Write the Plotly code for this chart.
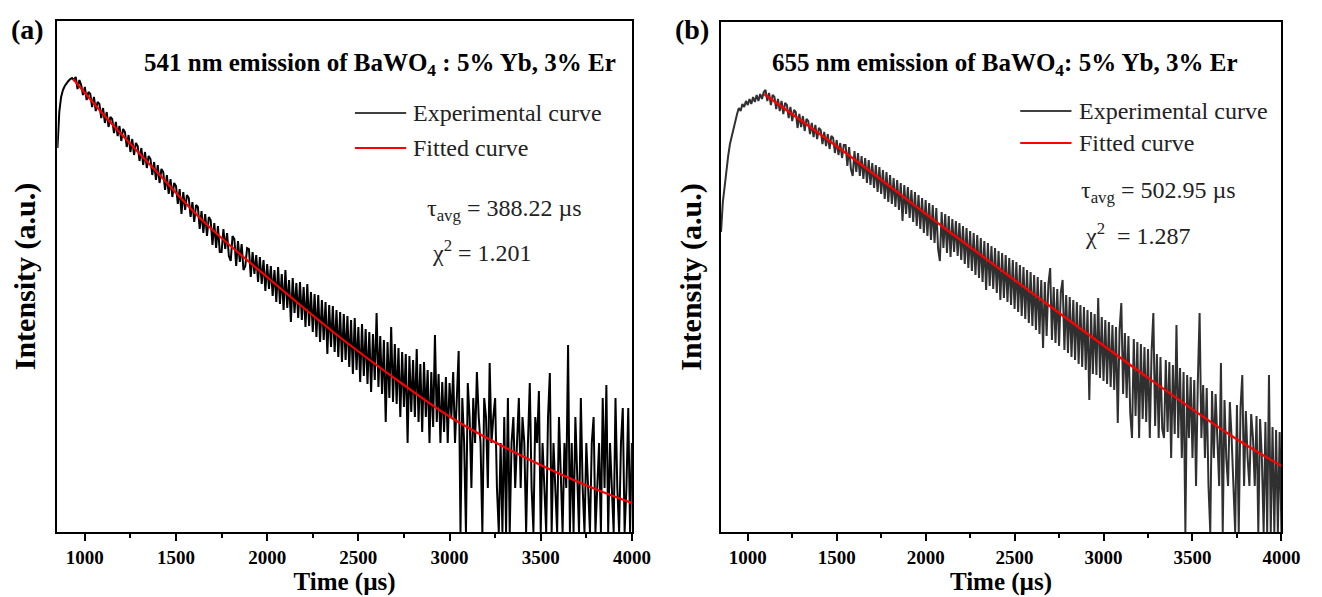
import numpy as np
import plotly.graph_objects as go

W, H = 1322, 597
T_START, T_STEP = 850, 10  # time channel grid (µs)

# Experimental decay curves (intensity, a.u.), one value per 10 µs channel from 850 µs
exp_a = [
    384, 420, 435, 442, 446, 449, 451, 453, 454, 452,
    455, 443, 452, 447, 437, 445, 432, 440, 438, 425,
    435, 421, 430, 428, 414, 424, 409, 420, 405, 415,
    413, 399, 410, 396, 406, 391, 403, 400, 385, 397,
    380, 393, 377, 389, 386, 371, 384, 367, 380, 364,
    376, 373, 357, 370, 352, 367, 349, 363, 360, 342,
    357, 338, 353, 335, 349, 346, 328, 343, 318, 340,
    322, 337, 334, 315, 330, 310, 327, 325, 303, 321,
    299, 318, 296, 315, 312, 287, 309, 284, 306, 280,
    280, 303, 283, 299, 276, 271, 296, 293, 266, 291,
    270, 288, 262, 266, 284, 283, 255, 280, 258, 277,
    250, 275, 248, 272, 241, 268, 243, 266, 236, 262,
    230, 265, 228, 258, 222, 262, 224, 252, 210, 254,
    219, 249, 214, 250, 212, 245, 205, 248, 206, 240,
    200, 238, 195, 237, 190, 232, 192, 230, 178, 227,
    185, 226, 180, 222, 175, 220, 170, 218, 172, 216,
    165, 212, 158, 214, 162, 205, 150, 208, 156, 203,
    148, 200, 140, 198, 152, 219, 145, 196, 138, 192,
    110, 190, 134, 205, 130, 188, 128, 184, 115, 180,
    125, 178, 89, 176, 120, 172, 115, 183, 110, 168,
    100, 170, 115, 162, 89, 160, 105, 197, 110, 158,
    89, 150, 100, 155, 89, 149, 115, 160, 89, 134,
    181, 0, 134, 89, 0, 149, 115, 44, 134, 89,
    160, 115, 89, 0, 134, 115, 44, 169, 89, 115,
    134, 44, 0, 89, 0, 115, 0, 134, 0, 89,
    115, 44, 89, 134, 44, 115, 89, 0, 89, 149,
    44, 0, 115, 89, 141, 0, 89, 44, 0, 115,
    159, 0, 89, 44, 0, 115, 44, 0, 89, 44,
    187, 0, 89, 0, 115, 44, 0, 134, 44, 0,
    89, 44, 0, 89, 115, 0, 44, 89, 0, 134,
    44, 147, 0, 89, 44, 0, 134, 44, 0, 89,
    124, 0, 44, 124, 0, 89,
]

exp_b = [
    300, 330, 345, 362, 376, 388, 396, 404, 412, 418,
    424, 421, 428, 425, 431, 427, 433, 428, 435, 430,
    437, 431, 438, 433, 440, 442, 431, 439, 427, 437,
    435, 423, 433, 421, 431, 418, 429, 427, 414, 425,
    411, 422, 420, 404, 418, 405, 416, 401, 413, 411,
    398, 409, 395, 407, 393, 404, 402, 388, 400, 386,
    398, 383, 396, 394, 379, 392, 377, 389, 374, 387,
    387, 366, 385, 363, 356, 381, 360, 379, 356, 376,
    353, 374, 349, 372, 347, 369, 344, 367, 340, 365,
    338, 362, 333, 360, 330, 357, 328, 354, 325, 352,
    322, 349, 311, 347, 318, 345, 314, 342, 310, 340,
    306, 337, 303, 334, 299, 332, 296, 329, 292, 327,
    289, 324, 283, 271, 320, 284, 318, 279, 316, 275,
    313, 280, 311, 276, 309, 272, 306, 268, 304, 264,
    301, 261, 299, 257, 297, 254, 294, 250, 291, 242,
    289, 246, 286, 243, 284, 239, 281, 232, 279, 234,
    277, 230, 274, 227, 272, 223, 270, 220, 267, 216,
    265, 213, 262, 209, 260, 206, 257, 202, 255, 198,
    252, 184, 250, 196, 248, 264, 192, 245, 189, 243,
    186, 240, 252, 182, 237, 179, 235, 175, 232, 172,
    230, 168, 227, 165, 225, 162, 222, 132, 220, 158,
    218, 157, 234, 154, 215, 151, 212, 148, 210, 145,
    207, 142, 205, 109, 202, 229, 138, 199, 134, 196,
    119, 94, 193, 116, 190, 94, 188, 113, 185, 110,
    183, 94, 180, 219, 106, 178, 94, 175, 103, 94,
    172, 100, 170, 74, 167, 98, 207, 94, 164, 74,
    160, 0, 157, 94, 155, 74, 152, 46, 150, 219,
    94, 147, 74, 144, 46, 0, 141, 74, 138, 94,
    46, 169, 0, 132, 74, 46, 130, 94, 46, 0,
    127, 0, 124, 157, 46, 121, 74, 46, 118, 94,
    46, 116, 0, 113, 74, 0, 110, 0, 157, 0,
    105, 0, 102, 0, 100, 0,
]

# Fitted curves
fit_a_time = [936, 1119, 1390, 1660, 2012, 2390, 2742, 3012, 3375, 3732, 4000]
fit_a = [453, 414, 361, 309, 253, 196, 148, 114, 78, 48, 29]
fit_b_time = [1091, 1551, 2105, 2659, 3213, 3712, 4000]
fit_b = [438, 379, 304, 231, 159, 97, 66]

time_ticks = [1000, 1500, 2000, 2500, 3000, 3500, 4000]
minor_ticks = [1250, 1750, 2250, 2750, 3250, 3750]

panel_labels = ["(a)", "(b)"]
panel_titles = ["541 nm emission of BaWO<sub>4</sub> : 5% Yb, 3% Er",
                "655 nm emission of BaWO<sub>4</sub>: 5% Yb, 3% Er"]
tau_text = ["τ<sub>avg</sub> = 388.22 µs", "τ<sub>avg</sub> = 502.95 µs"]
chi_text = ["χ<sup>2</sup> = 1.201", "χ<sup>2</sup>  = 1.287"]
legend_names = ["Experimental curve", "Fitted curve"]

time_a = T_START + T_STEP * np.arange(len(exp_a))
time_b = T_START + T_STEP * np.arange(len(exp_b))

SERIF = "Liberation Serif"


def px(x):
    return x / W


def py(y):
    return 1 - y / H


fig = go.Figure()
fig.add_trace(go.Scatter(x=time_a, y=exp_a, mode="lines", name=legend_names[0],
                         line=dict(color="#000000", width=2), xaxis="x", yaxis="y",
                         showlegend=False))
fig.add_trace(go.Scatter(x=fit_a_time, y=fit_a, mode="lines", name=legend_names[1],
                         line=dict(color="#ff0000", width=2.2, shape="spline"),
                         xaxis="x", yaxis="y", showlegend=False))
fig.add_trace(go.Scatter(x=time_b, y=exp_b, mode="lines", name=legend_names[0],
                         line=dict(color="#303030", width=2), xaxis="x2", yaxis="y2",
                         showlegend=False))
fig.add_trace(go.Scatter(x=fit_b_time, y=fit_b, mode="lines", name=legend_names[1],
                         line=dict(color="#ff0000", width=2.2, shape="spline"),
                         xaxis="x2", yaxis="y2", showlegend=False))

xcommon = dict(
    showline=True, mirror=True, linecolor="black", linewidth=1.5,
    showgrid=False, zeroline=False,
    ticks="outside", ticklen=7, tickwidth=1.5, tickcolor="black",
    tickmode="array", tickvals=time_ticks,
    tickfont=dict(family=SERIF, size=19, color="black", weight="bold"),
    minor=dict(tickmode="array", tickvals=minor_ticks, ticks="outside",
               ticklen=4, tickwidth=1.5, tickcolor="black", showgrid=False),
    title=dict(text="Time (µs)", font=dict(family=SERIF, size=25, color="black", weight="bold"),
               standoff=4),
)


def ycommon(standoff):
    return dict(
        showline=True, mirror=True, linecolor="black", linewidth=1.5,
        showgrid=False, zeroline=False, showticklabels=False, ticks="",
        title=dict(text="Intensity (a.u.)",
                   font=dict(family=SERIF, size=30, color="black", weight="bold"),
                   standoff=standoff),
    )


fig.update_layout(
    width=W, height=H,
    margin=dict(l=0, r=0, t=0, b=0),
    paper_bgcolor="white", plot_bgcolor="white",
    showlegend=False,
    xaxis=dict(domain=[px(50), px(633)], range=[849, 4000], anchor="y", **xcommon),
    yaxis=dict(domain=[py(524), py(13)], range=[0, 511], anchor="x", **ycommon(14)),
    xaxis2=dict(domain=[px(723), px(1292)], range=[847.5, 4000], anchor="y2", **xcommon),
    yaxis2=dict(domain=[py(524), py(14)], range=[0, 510], anchor="x2", **ycommon(8)),
)

ann = []
shapes = []
panels = [
    dict(lab_x=1, title_x=377, leg_line=(352, 404), leg_y=(105, 140), leg_tx=409,
         tau=(423, 202), chi=(428, 243), title_size=25),
    dict(lab_x=675, title_x=1012, leg_line=(1027, 1079), leg_y=(103, 135), leg_tx=1085,
         tau=(1087, 184), chi=(1091, 226), title_size=25),
]
for i, p in enumerate(panels):
    ann.append(dict(text="<b>%s</b>" % panel_labels[i], x=px(p["lab_x"]), y=py(22),
                    xref="paper", yref="paper", xanchor="left", yanchor="middle",
                    showarrow=False, font=dict(family=SERIF, size=28, color="black")))
    ann.append(dict(text="<b>%s</b>" % panel_titles[i], x=px(p["title_x"]), y=py(57),
                    xref="paper", yref="paper", xanchor="center", yanchor="middle",
                    showarrow=False, font=dict(family=SERIF, size=p["title_size"], color="black")))
    for j, (name, col, lw) in enumerate(zip(legend_names, ["#000000", "#ff0000"], [1.5, 2])):
        ann.append(dict(text=name, x=px(p["leg_tx"]), y=py(p["leg_y"][j]),
                        xref="paper", yref="paper", xanchor="left", yanchor="middle",
                        showarrow=False, font=dict(family=SERIF, size=24, color="#222222")))
        shapes.append(dict(type="line", xref="paper", yref="paper",
                           x0=px(p["leg_line"][0]), x1=px(p["leg_line"][1]),
                           y0=py(p["leg_y"][j]), y1=py(p["leg_y"][j]),
                           line=dict(color=col, width=lw)))
    ann.append(dict(text=tau_text[i], x=px(p["tau"][0]), y=py(p["tau"][1]),
                    xref="paper", yref="paper", xanchor="left", yanchor="middle",
                    showarrow=False, font=dict(family=SERIF, size=24, color="#222222")))
    ann.append(dict(text=chi_text[i], x=px(p["chi"][0]), y=py(p["chi"][1]),
                    xref="paper", yref="paper", xanchor="left", yanchor="middle",
                    showarrow=False, font=dict(family=SERIF, size=24, color="#222222")))

fig.update_layout(annotations=ann, shapes=shapes)

fig.write_html("out.html")
